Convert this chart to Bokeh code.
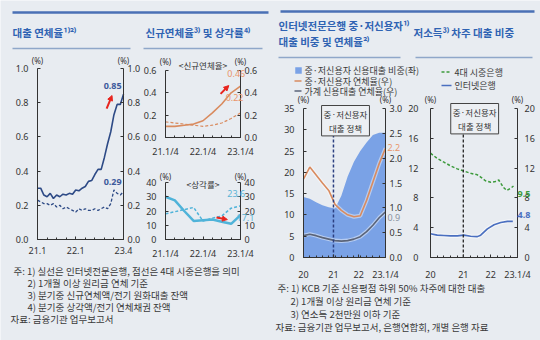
from bokeh.plotting import figure
from bokeh.models import (Range1d, LinearAxis, FixedTicker, PrintfTickFormatter,
                          Label, Arrow, NormalHead)
from bokeh.core.properties import value
from bokeh.embed import file_html
from bokeh.resources import INLINE

# ---------------- data ----------------
# Panel 1: 대출 연체율 (monthly 21.1 .. 23.4)
p1_months = list(range(28))
p1_tick_pos = [0, 12, 27]
p1_tick_labels = ["21.1", "22.1", "23.4"]
p1_internet = [0.30, 0.30, 0.26, 0.25, 0.27, 0.24, 0.26, 0.25, 0.265, 0.26, 0.27, 0.265,
               0.29, 0.285, 0.30, 0.31, 0.34, 0.345, 0.38, 0.41, 0.41, 0.48, 0.56, 0.63,
               0.73, 0.79, 0.79, 0.85]
p1_big4 = [0.23, 0.22, 0.21, 0.21, 0.20, 0.21, 0.19, 0.20, 0.18, 0.19, 0.18, 0.17,
           0.16, 0.18, 0.17, 0.18, 0.17, 0.17, 0.18, 0.17, 0.18, 0.19, 0.18, 0.21,
           0.29, 0.27, 0.26, 0.28]

# Panel 2: 신규연체율 / 상각률 (quarterly 21.1/4 .. 23.1/4)
p2_quarters = list(range(9))
p2_tick_pos = [0, 4, 8]
p2_tick_labels = ["21.1/4", "22.1/4", "23.1/4"]
p2_new_internet = [0.10, 0.10, 0.11, 0.12, 0.15, 0.22, 0.30, 0.40, 0.46]
p2_new_big4 = [0.14, 0.13, 0.12, 0.11, 0.10, 0.11, 0.13, 0.17, 0.22]
p2_wo_internet = [30.0, 27.5, 20.0, 13.0, 13.5, 14.0, 12.5, 11.0, 17.1]
p2_wo_big4 = [18.0, 19.5, 21.0, 22.5, 13.0, 15.0, 16.5, 22.0, 23.6]

# Panel 3: 인터넷전문은행 중·저신용자 대출 비중 및 연체율 (quarterly)
p3_quarters = list(range(14))
p3_tick_pos = [0, 4.75, 8.75, 13]
p3_tick_labels = ["20", "21", "22", "23.1/4"]
p3_policy = 4.75
p3_share = [14.2, 13.8, 13.0, 12.3, 11.8, 11.5, 14.5, 19.0, 22.5, 25.0, 27.0, 28.8, 29.3, 29.3]
p3_delinq = [1.58, 1.82, 1.66, 1.50, 1.35, 1.07, 0.95, 0.86, 0.82, 0.84, 1.15, 1.52, 1.89, 2.20]
p3_household = [0.44, 0.47, 0.44, 0.40, 0.37, 0.34, 0.33, 0.34, 0.37, 0.42, 0.52, 0.65, 0.80, 0.92]

# Panel 4: 저소득 차주 대출 비중
p4_tick_pos = [0, 4.9, 9, 13]
p4_tick_labels = ["20", "21", "22", "23.1/4"]
p4_policy = 4.9
p4_x_big4 = [0, 1, 2, 3, 4, 5, 6, 7, 7.5, 8.2, 9, 9.7, 10.2, 10.9, 11.4, 12.0, 12.4]
p4_big4 = [14.0, 13.3, 12.8, 12.3, 11.9, 11.6, 11.3, 11.1, 10.8, 10.3, 10.1, 10.2, 10.4, 9.4, 9.0, 9.3, 9.6]
p4_x_internet = [0, 1, 2, 3, 4, 5, 6, 7, 7.5, 8.5, 9.5, 10.5, 11.5, 12.3]
p4_internet = [3.2, 3.0, 2.95, 2.9, 2.9, 3.0, 2.85, 2.8, 3.0, 3.85, 4.4, 4.7, 4.85, 4.85]

# ---------------- style ----------------
W, H = 540, 340
BG = "#e8ecf1"
KR = "Noto Sans CJK KR"
NUM = "Noto Sans"
AX = "#333333"
TXT = "#333333"
NOTE = "#3a3a3a"
TITLE = "#2f63b3"
NAVY = "#2d4a86"
ORANGE = "#d98b5f"
ORANGE_L = "#e8956a"
CYAN = "#4fb3d9"
CYAN_L = "#5ab4d6"
AREA = "#7aa2e6"
GRAY = "#5b6478"
GREEN = "#3c9a3c"
BLUE = "#4a6fc0"
RED = "#e8251f"

p = figure(width=W, height=H, x_range=Range1d(0, W), y_range=Range1d(H, 0),
           output_backend="svg", toolbar_location=None,
           x_axis_location=None, y_axis_location=None, min_border=0,
           background_fill_color=BG, border_fill_color=BG, outline_line_color=None)
p.grid.visible = False


def map_range(d0, d1, px0, px1, total, vertical=False):
    """Range so that data d0/d1 land on pixels px0/px1 of the full frame."""
    if vertical:
        px0, px1 = total - px0, total - px1
    s = (px1 - px0) / (d1 - d0)
    start = d0 - px0 / s
    return Range1d(start, start + total / s)


p.extra_x_ranges = {
    "p1x": map_range(0, 27, 37, 123, W),
    "p2x": map_range(0, 8, 165, 240, W),
    "p3x": map_range(0, 13, 303, 385, W),
    "p4x": map_range(0, 13, 430, 517, W),
}
p.extra_y_ranges = {
    "p1y": map_range(0, 1.0, 239, 68, H, True),
    "p2ay": map_range(0, 0.6, 137, 70, H, True),
    "p2by": map_range(0, 40, 239, 182, H, True),
    "p3y": map_range(0, 35, 257, 108, H, True),
    "p3r": map_range(0, 3.0, 257, 108, H, True),
    "p4y": map_range(0, 20, 257, 108, H, True),
}


def style_axis(ax, standoff):
    ax.axis_line_color = AX
    ax.axis_line_width = 1
    ax.major_tick_in = 3
    ax.major_tick_out = 0
    ax.minor_tick_in = 2
    ax.minor_tick_out = 0
    ax.major_tick_line_color = AX
    ax.minor_tick_line_color = AX
    ax.major_label_text_font = NUM
    ax.major_label_text_font_size = "9px"
    ax.major_label_text_color = TXT
    ax.major_label_standoff = standoff
    return ax


def panel_axes(xr, yr, xend, yend, xticks, xlabels, xminor, yticks, yfmt,
               rr=None, rend=None, rticks=None, rfmt=None, xoff=7, loff=9, roff=4):
    bottom = LinearAxis(x_range_name=xr, y_range_name=yr, fixed_location=0, bounds=(0, xend),
                        ticker=FixedTicker(ticks=xticks, minor_ticks=xminor),
                        major_label_overrides={t: l for t, l in zip(xticks, xlabels)})
    p.add_layout(style_axis(bottom, xoff), "below")
    left = LinearAxis(x_range_name=xr, y_range_name=yr, fixed_location=0, bounds=(0, yend),
                      ticker=FixedTicker(ticks=yticks, minor_ticks=[]),
                      formatter=PrintfTickFormatter(format=yfmt))
    p.add_layout(style_axis(left, loff), "left")
    right = LinearAxis(x_range_name=xr, y_range_name=rr or yr, fixed_location=xend,
                       bounds=(0, rend if rend is not None else yend),
                       ticker=FixedTicker(ticks=rticks or yticks, minor_ticks=[]),
                       formatter=PrintfTickFormatter(format=rfmt or yfmt))
    p.add_layout(style_axis(right, roff), "right")


def lab(x, y, text, xr, yr, size="9px", color=TXT, bold=False, align="center",
        baseline="middle", yoff=0, xoff=0, font=NUM, **kw):
    p.add_layout(Label(x=x, y=y, text=text, text_font=font, text_font_size=size,
                       text_color=color, text_font_style="bold" if bold else "normal",
                       text_align=align, text_baseline=baseline, x_offset=xoff, y_offset=yoff,
                       x_range_name=xr, y_range_name=yr, **kw))


def arrow(x0, y0, x1, y1, xr, yr):
    p.add_layout(Arrow(end=NormalHead(size=5, fill_color=RED, line_color=RED),
                       x_start=x0, y_start=y0, x_end=x1, y_end=y1,
                       line_color=RED, line_width=2, x_range_name=xr, y_range_name=yr))


def note_text(xs, ys, texts, size="9.5px", color=NOTE, bold=False):
    p.text(x=xs, y=ys, text=texts, text_font=value(KR), text_font_size=size,
           text_font_style="bold" if bold else "normal", text_color=color,
           text_baseline="middle", text_align="left")


# ---------------- headers ----------------
p.segment(x0=[12, 280], y0=[12, 11], x1=[268, 534], y1=[12, 11], line_color="#4a70b5", line_width=2.5)
p.segment(x0=[12, 143, 278, 415], y0=[48, 48, 57, 57], x1=[130, 262, 400, 532], y1=[48, 48, 57, 57],
          line_color="#8fa7c9", line_width=1.5)
note_text([12, 145, 278, 278, 413], [32, 32, 25, 41, 32],
          ["대출 연체율¹⁾²⁾", "신규연체율³⁾ 및 상각률⁴⁾", "인터넷전문은행 중·저신용자¹⁾",
           "대출 비중 및 연체율²⁾", "저소득³⁾ 차주 대출 비중"],
          size="10.5px", color=TITLE, bold=True)

# legends
p.rect(x=[298], y=[70], width=6.5, height=6.5, fill_color=AREA, line_color=None)
p.segment(x0=[294, 294], y0=[80.5, 90.5], x1=[301, 301], y1=[80.5, 90.5],
          line_color=[ORANGE, GRAY], line_width=1.5)
note_text([304, 304, 304], [70, 80.5, 90.5],
          ["중·저신용자 신용대출 비중(좌)", "중·저신용자 연체율(우)", "가계 신용대출 연체율(우)"],
          size="9px")
p.segment(x0=[441], y0=[71.5], x1=[451], y1=[71.5], line_color=GREEN, line_width=1.5, line_dash="3 2")
p.segment(x0=[441], y0=[85], x1=[451], y1=[85], line_color=BLUE, line_width=1.5)
note_text([454, 454], [71.5, 85], ["4대 시중은행", "인터넷은행"], size="9px")

# ---------------- panel 1 ----------------
panel_axes("p1x", "p1y", 27, 1.0, p1_tick_pos, p1_tick_labels, list(range(0, 28, 3)),
           [0, 0.2, 0.4, 0.6, 0.8, 1.0], "%.1f")
p.line(p1_months, p1_big4, line_color=NAVY, line_width=1.3, line_dash="3 2",
       x_range_name="p1x", y_range_name="p1y")
p.line(p1_months, p1_internet, line_color=NAVY, line_width=1.6,
       x_range_name="p1x", y_range_name="p1y")
lab(0, 1.0, "(%)", "p1x", "p1y", size="8px", baseline="bottom", yoff=2.5)
lab(27, 1.0, "(%)", "p1x", "p1y", size="8px", baseline="bottom", yoff=2.5)
lab(23.6, 0.90, "0.85", "p1x", "p1y", color="#3d5a9c", bold=True)
lab(23.6, 0.335, "0.29", "p1x", "p1y", color="#3d5a9c", bold=True)
arrow(21.7, 0.766, 23.4, 0.842, "p1x", "p1y")

# ---------------- panel 2 top ----------------
panel_axes("p2x", "p2ay", 8, 0.6, p2_tick_pos, p2_tick_labels, p2_quarters,
           [0, 0.2, 0.4, 0.6], "%.1f")
p.line(p2_quarters, p2_new_big4, line_color=ORANGE, line_width=1.2, line_dash="3 2",
       x_range_name="p2x", y_range_name="p2ay")
p.line(p2_quarters, p2_new_internet, line_color=ORANGE, line_width=1.6,
       x_range_name="p2x", y_range_name="p2ay")
lab(0, 0.6, "(%)", "p2x", "p2ay", size="8px", baseline="bottom", yoff=4)
lab(8, 0.6, "(%)", "p2x", "p2ay", size="8px", baseline="bottom", yoff=4)
lab(4, 0.6, "<신규연체율>", "p2x", "p2ay", size="8.5px", font=KR, baseline="bottom", yoff=0)
lab(7.55, 0.57, "0.46", "p2x", "p2ay", color=ORANGE_L)
lab(7.37, 0.36, "0.22", "p2x", "p2ay", color=ORANGE_L)
arrow(5.87, 0.391, 6.75, 0.465, "p2x", "p2ay")

# ---------------- panel 2 bottom ----------------
panel_axes("p2x", "p2by", 8, 40, p2_tick_pos, p2_tick_labels, p2_quarters,
           [0, 10, 20, 30, 40], "%d")
p.line(p2_quarters, p2_wo_big4, line_color=CYAN, line_width=1.5, line_dash="3 2",
       x_range_name="p2x", y_range_name="p2by")
p.line(p2_quarters, p2_wo_internet, line_color=CYAN, line_width=2.5,
       x_range_name="p2x", y_range_name="p2by")
lab(0, 40, "(%)", "p2x", "p2by", size="8px", baseline="bottom", yoff=1)
lab(8, 40, "(%)", "p2x", "p2by", size="8px", baseline="bottom", yoff=1)
lab(4, 40, "<상각률>", "p2x", "p2by", size="8.5px", font=KR, baseline="middle", yoff=-1.5)
lab(7.55, 32.1, "23.6", "p2x", "p2by", color=CYAN_L)
lab(8.53, 15.7, "17.1", "p2x", "p2by", color=CYAN_L)
arrow(5.44, 15.4, 6.6, 14.0, "p2x", "p2by")

# ---------------- panel 3 ----------------
p.varea(x=p3_quarters, y1=0, y2=p3_share, fill_color=AREA, x_range_name="p3x", y_range_name="p3y")
for series, col in ((p3_household, GRAY), (p3_delinq, ORANGE)):
    p.line(p3_quarters, series, line_color="#ffffff", line_alpha=0.45, line_width=4,
           x_range_name="p3x", y_range_name="p3r")
    p.line(p3_quarters, series, line_color=col, line_width=1.6,
           x_range_name="p3x", y_range_name="p3r")
p.segment(x0=[p3_policy], y0=[0], x1=[p3_policy], y1=[35], line_color="#2b3f80",
          line_width=1.5, line_dash="3 2", x_range_name="p3x", y_range_name="p3y")
panel_axes("p3x", "p3y", 13, 35, p3_tick_pos, p3_tick_labels, p3_quarters,
           [0, 5, 10, 15, 20, 25, 30, 35], "%d",
           rr="p3r", rend=3.0, rticks=[0, 0.5, 1.0, 1.5, 2.0, 2.5, 3.0], rfmt="%.1f",
           xoff=10, loff=9, roff=4)
lab(6.66, 35, "중·저신용자\n대출 정책", "p3x", "p3y", size="8.5px", font=KR, baseline="top", yoff=3,
    background_fill_color="#eceff3", border_line_color="#444444", padding=2)
lab(0, 35, "(%)", "p3x", "p3y", size="8px", baseline="bottom", yoff=4)
lab(13, 35, "(%)", "p3x", "p3y", size="8px", baseline="bottom", yoff=4)
lab(13.3, 2.21, "2.2", "p3x", "p3r", color=ORANGE_L, align="left")
lab(13.3, 0.81, "0.9", "p3x", "p3r", color="#8a92a0", align="left")

# ---------------- panel 4 ----------------
p.line(p4_x_big4, p4_big4, line_color=GREEN, line_width=1.5, line_dash="3 2",
       x_range_name="p4x", y_range_name="p4y")
p.line(p4_x_internet, p4_internet, line_color="#ffffff", line_alpha=0.5, line_width=4,
       x_range_name="p4x", y_range_name="p4y")
p.line(p4_x_internet, p4_internet, line_color=BLUE, line_width=1.6,
       x_range_name="p4x", y_range_name="p4y")
p.segment(x0=[p4_policy], y0=[0], x1=[p4_policy], y1=[20], line_color="#222222",
          line_width=1.3, line_dash="3 2", x_range_name="p4x", y_range_name="p4y")
panel_axes("p4x", "p4y", 13, 20, p4_tick_pos, p4_tick_labels, list(range(14)),
           [0, 4, 8, 12, 16, 20], "%d", xoff=10, loff=12, roff=7)
lab(6.6, 20, "중·저신용자\n대출 정책", "p4x", "p4y", size="8.5px", font=KR, baseline="top", yoff=5,
    background_fill_color="#eceff3", border_line_color="#444444", padding=2)
lab(0, 20, "(%)", "p4x", "p4y", size="8px", baseline="bottom", yoff=4)
lab(13, 20, "(%)", "p4x", "p4y", size="8px", baseline="bottom", yoff=4)
lab(13.45, 8.2, "9.5", "p4x", "p4y", color=GREEN, bold=True, align="left", xoff=-3, yoff=2)
lab(13.45, 5.73, "4.8", "p4x", "p4y", color=BLUE, bold=True, align="left", xoff=-3)

# ---------------- footnotes ----------------
note_text([13, 27, 27, 27, 10], [270, 282, 294, 306, 318],
          ["주: 1) 실선은 인터넷전문은행, 점선은 4대 시중은행을 의미",
           "2) 1개월 이상 원리금 연체 기준",
           "3) 분기중 신규연체액/전기 원화대출 잔액",
           "4) 분기중 상각액/전기 연체채권 잔액",
           "자료: 금융기관 업무보고서"])
note_text([277, 290, 290, 275], [287.5, 300.5, 313.5, 326.5],
          ["주: 1) KCB 기준 신용평점 하위 50% 차주에 대한 대출",
           "2) 1개월 이상 원리금 연체 기준",
           "3) 연소득 2천만원 이하 기준",
           "자료: 금융기관 업무보고서, 은행연합회, 개별 은행 자료"])

open("out.html", "w").write(file_html(p, INLINE))
